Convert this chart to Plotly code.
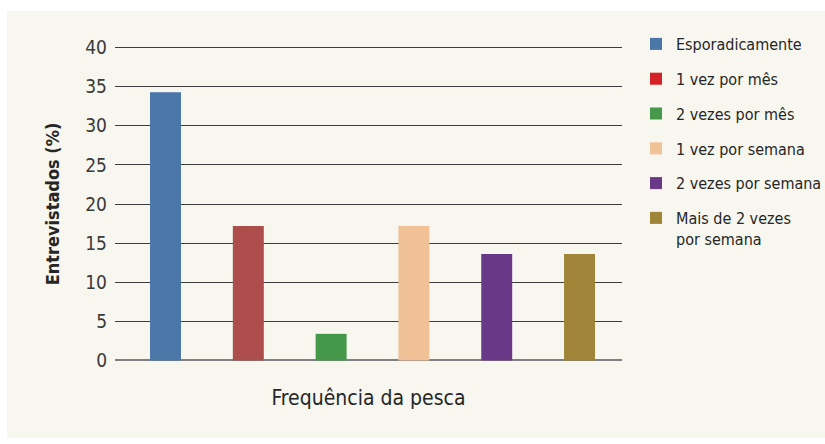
import plotly.graph_objects as go

# Fishing frequency of respondents (% of interviewees)
categories = [
    "Esporadicamente",
    "1 vez por mês",
    "2 vezes por mês",
    "1 vez por semana",
    "2 vezes por semana",
    "Mais de 2 vezes<br>por semana",
]
values = [34.3, 17.2, 3.4, 17.2, 13.6, 13.6]
bar_colors = ["#4A76A8", "#AD4E4C", "#459849", "#F0C096", "#693886", "#A08539"]
legend_colors = ["#4A76A8", "#D42027", "#459849", "#F0C096", "#693886", "#A08539"]
y_ticks = [0, 5, 10, 15, 20, 25, 30, 35, 40]

FONT = "DejaVu Sans Condensed, Liberation Sans Narrow, Arial Narrow, sans-serif"
PANEL = "#F7F6EF"

W, H = 825, 444
L, R, T, B = 115, 203, 46, 82
y_range = [-0.2, 40.2]
x_range = [-0.61, 5.513]

fig = go.Figure()
for i, (name, val) in enumerate(zip(categories, values)):
    same = bar_colors[i] == legend_colors[i]
    fig.add_trace(go.Bar(
        x=[i], y=[val], name=name,
        marker=dict(color=bar_colors[i], line=dict(width=0)),
        width=0.374,
        showlegend=same,
        legendgroup=f"g{i}",
        hoverinfo="skip",
    ))
    if not same:
        # legend swatch drawn in its own colour
        fig.add_trace(go.Bar(
            x=[None], y=[None], name=name,
            marker=dict(color=legend_colors[i], line=dict(width=0)),
            showlegend=True,
            legendgroup=f"g{i}",
        ))

pw = W - L - R
ph = H - T - B


def px_x(p):
    return (p - L) / pw


def px_y(p):
    return (H - B - p) / ph


fig.add_shape(
    type="rect", xref="paper", yref="paper",
    x0=px_x(7), x1=px_x(W + 2), y0=px_y(438), y1=px_y(11),
    fillcolor=PANEL, line=dict(width=0), layer="below",
)

fig.update_layout(
    width=W, height=H,
    margin=dict(l=L, r=R, t=T, b=B, pad=0, autoexpand=False),
    paper_bgcolor="white",
    plot_bgcolor=PANEL,
    barmode="overlay",
    font=dict(family=FONT, color="#262626"),
    showlegend=True,
    legend=dict(
        x=px_x(636), y=px_y(27), xanchor="left", yanchor="top",
        font=dict(family=FONT, size=16, color="#262626"),
        bgcolor="rgba(0,0,0,0)",
        tracegroupgap=11,
        valign="top",
        traceorder="grouped",
    ),
    xaxis=dict(
        range=x_range,
        showticklabels=False, ticks="", showgrid=False, zeroline=False,
        showline=False,
        title=dict(text="Frequência da pesca", font=dict(family=FONT, size=21, color="#262626"), standoff=28),
    ),
    yaxis=dict(
        range=y_range,
        tickvals=y_ticks,
        ticktext=[str(v) for v in y_ticks],
        tickfont=dict(family=FONT, size=19, color="#3a3a3a"),
        ticklabelstandoff=7,
        showgrid=True, gridcolor="#3c3c3c", gridwidth=1.3,
        zeroline=True, zerolinecolor="#808080", zerolinewidth=2.2,
        showline=False, ticks="",
        title=dict(text="<b>Entrevistados (%)</b>", font=dict(family=FONT, size=18, color="#262626"), standoff=20),
    ),
)

fig.write_html("out.html")
